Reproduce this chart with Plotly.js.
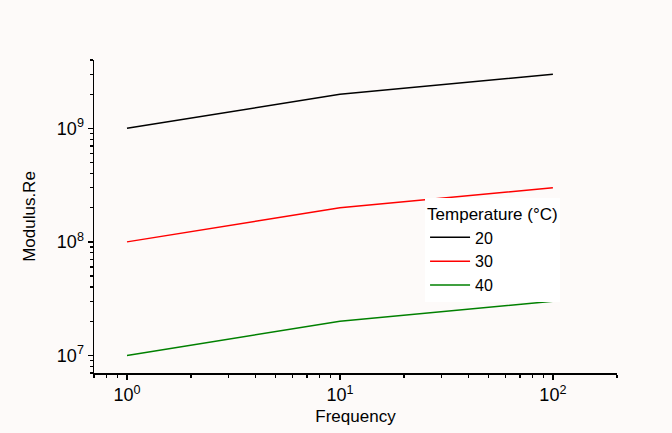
<!DOCTYPE html>
<html><head><meta charset="utf-8">
<script src="https://cdn.plot.ly/plotly-3.0.1.min.js"></script>
<style>body{margin:0;background:#fdfaf9;}#c{width:672px;height:433px;}</style>
</head><body><div id="c"></div>
<script>
const frequency = [1, 10, 100];
const temperatures = ["20", "30", "40"];
const modulus20 = [1e9, 2e9, 3e9];
const modulus30 = [1e8, 2e8, 3e8];
const modulus40 = [1e7, 2e7, 3e7];
const xTickVals = [1, 10, 100];
const xTickText = ["10<sup>0</sup>", "10<sup>1</sup>", "10<sup>2</sup>"];
const yTickVals = [1e7, 1e8, 1e9];
const yTickText = ["10<sup>7</sup>", "10<sup>8</sup>", "10<sup>9</sup>"];
const colors = ["#000000", "#ff0000", "#008000"];
const series = [modulus20, modulus30, modulus40];

const traces = series.map((s, i) => ({
  x: frequency, y: s, type: 'scatter', mode: 'lines', name: temperatures[i],
  line: {color: colors[i], width: 1.5}
}));

const FONT = 'Liberation Sans, Arial';
const axisCommon = {
  type: 'log', showline: true, linecolor: '#000', linewidth: 1.5,
  showgrid: false, zeroline: false, ticks: 'outside', ticklen: 5, tickwidth: 1.5,
  tickcolor: '#000', tickmode: 'array',
  tickfont: {family: FONT, size: 18, color: '#000'},
  minor: {ticks: 'outside', ticklen: 3, tickwidth: 1.2, tickcolor: '#000', dtick: 'D1', showgrid: false}
};

const layout = {
  width: 672, height: 433,
  paper_bgcolor: '#fdfaf9', plot_bgcolor: '#fdfaf9',
  margin: {l: 94, r: 55, t: 60, b: 60},
  xaxis: Object.assign({}, axisCommon, {
    range: [Math.log10(0.7), Math.log10(200)],
    tickvals: xTickVals, ticktext: xTickText,
    title: {text: 'Frequency', font: {family: FONT, size: 17, color: '#000'}, standoff: 6}
  }),
  yaxis: Object.assign({}, axisCommon, {
    range: [Math.log10(7e6), Math.log10(4e9)],
    tickvals: yTickVals, ticktext: yTickText,
    title: {text: 'Modulus.Re', font: {family: FONT, size: 17, color: '#000'}, standoff: 17}
  }),
  showlegend: true,
  legend: {
    x: 0.633, y: 0.558, xanchor: 'left', yanchor: 'top',
    bgcolor: '#ffffff', borderwidth: 0,
    title: {text: 'Temperature (°C)', font: {family: FONT, size: 17, color: '#000'}},
    font: {family: FONT, size: 16, color: '#000'},
    tracegroupgap: 0, itemwidth: 40
  }
};

Plotly.newPlot('c', traces, layout, {displayModeBar: false, staticPlot: true});
</script>
</body></html>
